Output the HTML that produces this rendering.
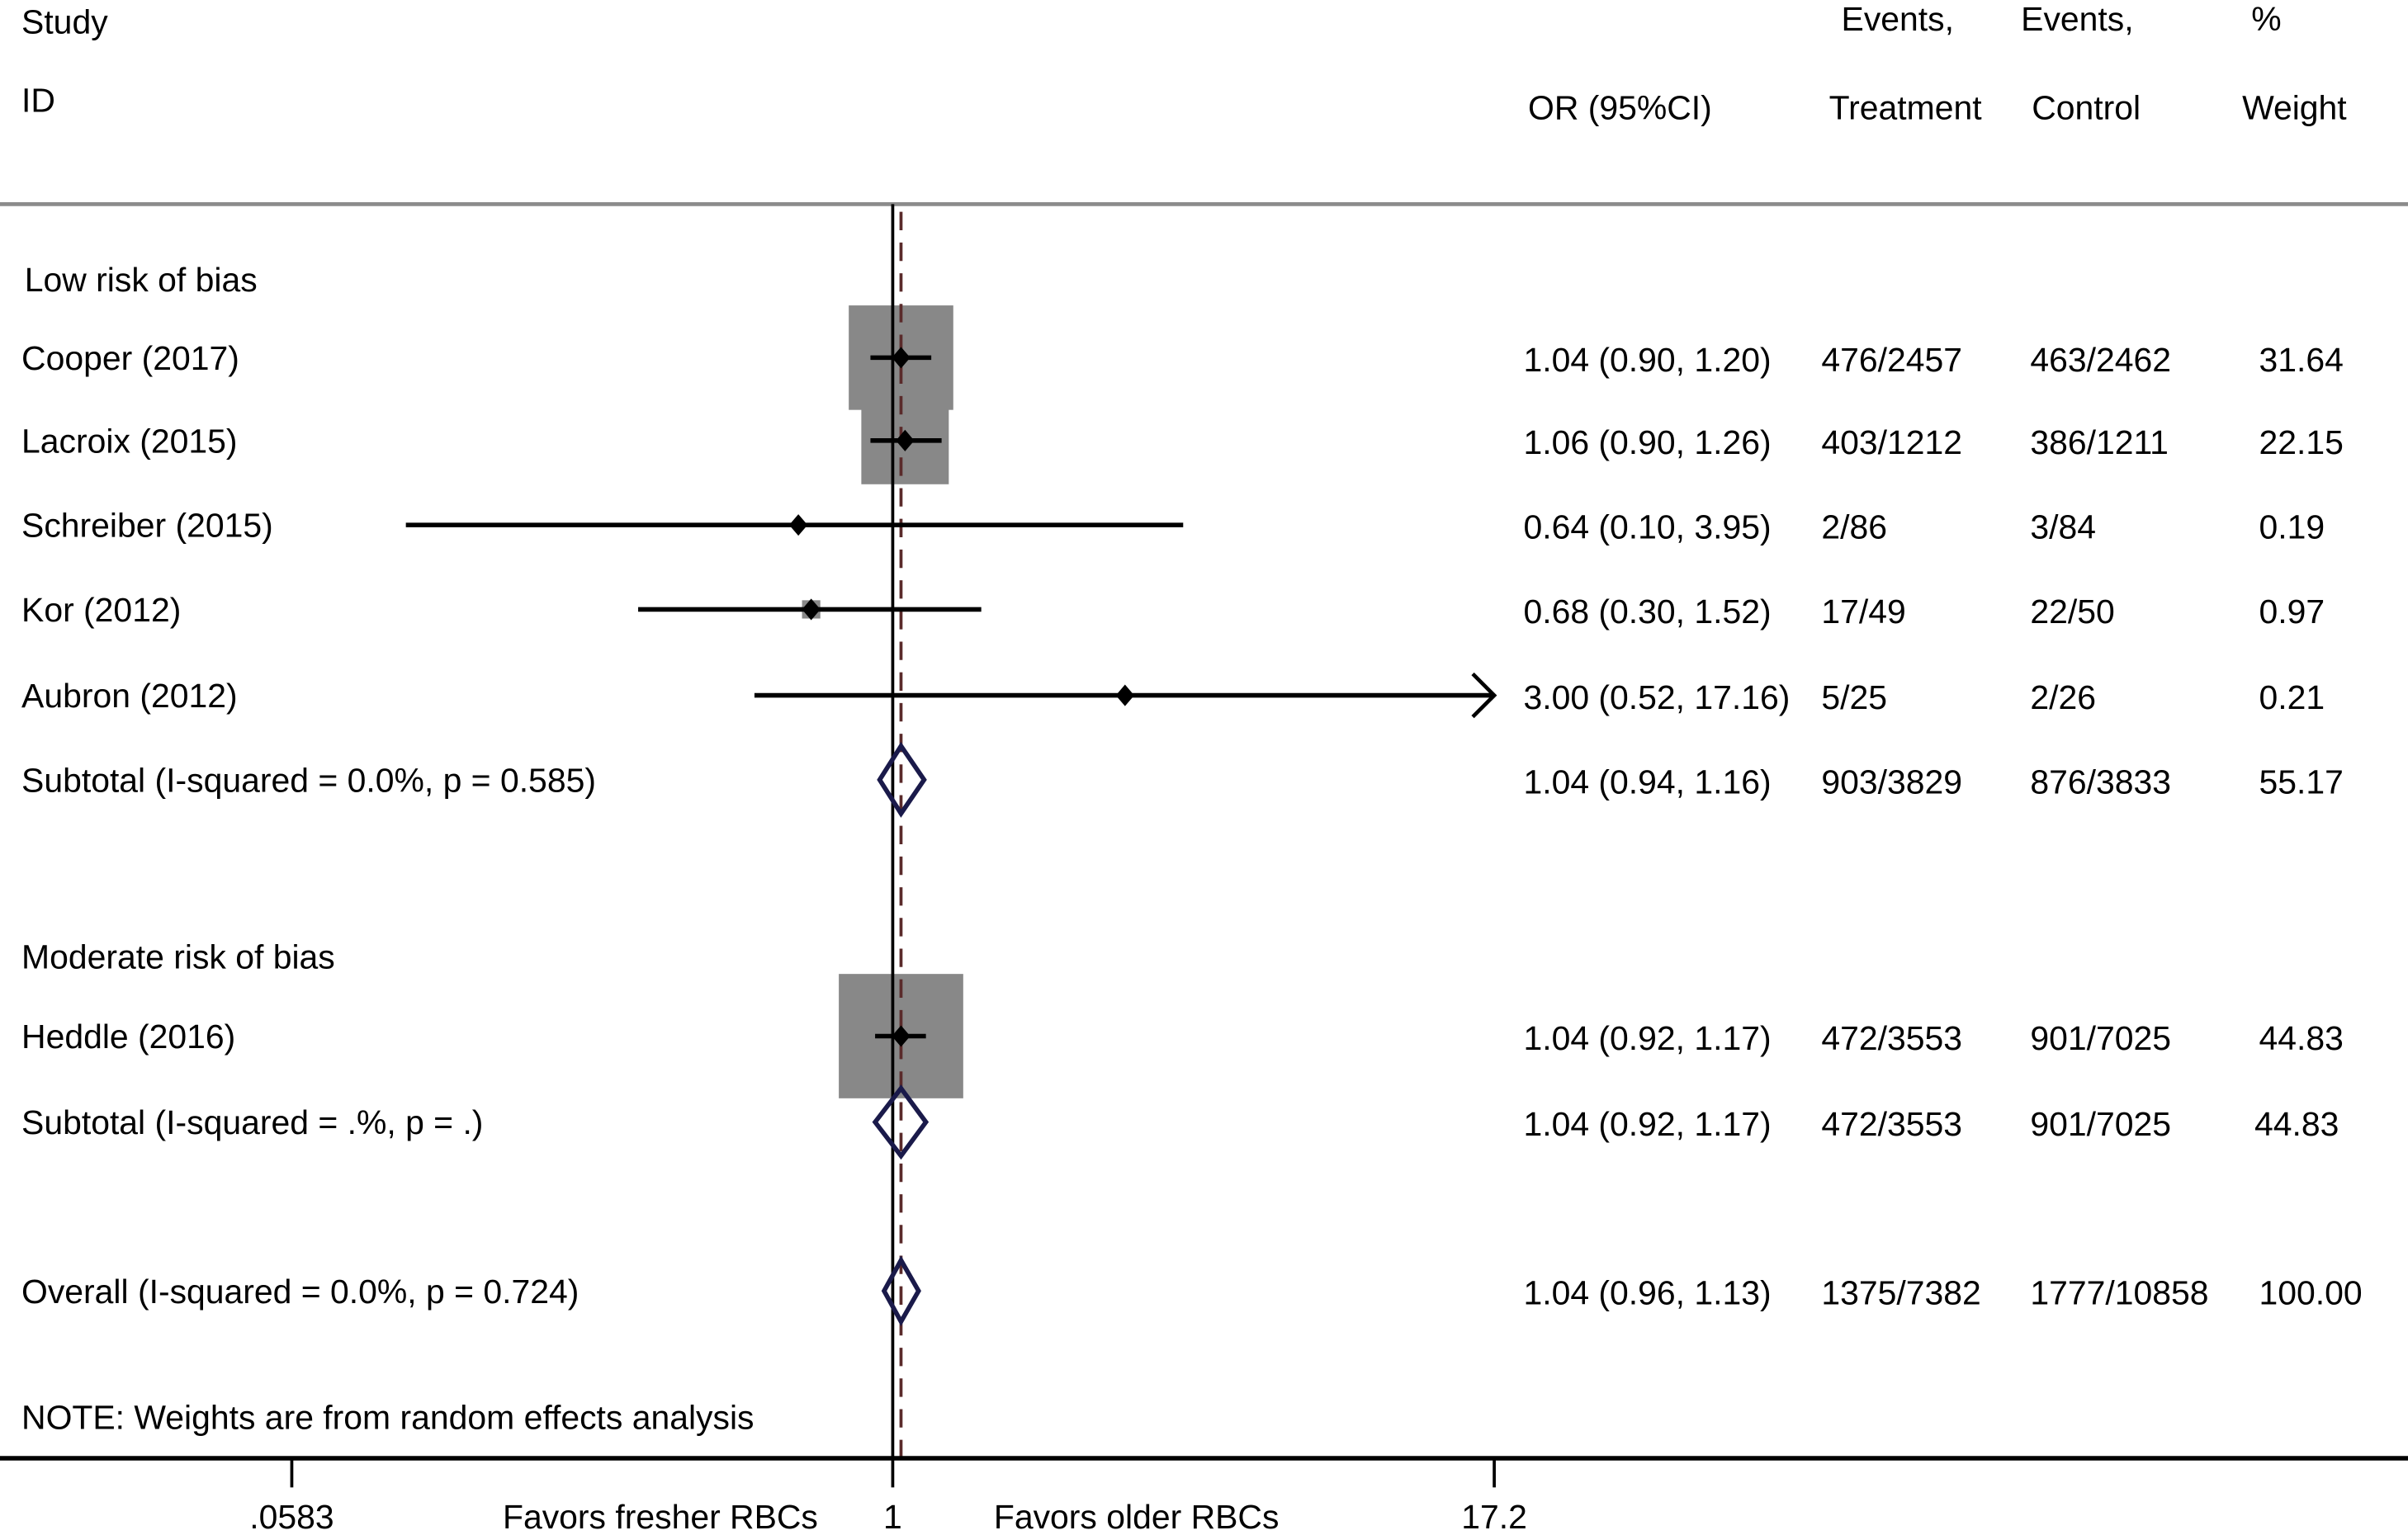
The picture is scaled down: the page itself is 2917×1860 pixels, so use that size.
<!DOCTYPE html>
<html><head><meta charset="utf-8"><style>
html,body{margin:0;padding:0;background:#fff}
svg{display:block}
text{font-family:"Liberation Sans",Arial,sans-serif;font-size:22px;fill:#000;dominant-baseline:middle}
</style></head><body>
<svg id="chart" width="2917" height="1860" viewBox="0 0 1568 1000" preserveAspectRatio="none" xmlns="http://www.w3.org/2000/svg">
<g id="hdr">
<text x="14" y="16">Study</text>
<text x="14" y="67">ID</text>
<text x="995" y="72">OR (95%CI)</text>
<text x="1199" y="14">Events,</text>
<text x="1191" y="72">Treatment</text>
<text x="1316" y="14">Events,</text>
<text x="1323" y="72">Control</text>
<text x="1466" y="14">%</text>
<text x="1460" y="72">Weight</text>
<line x1="0" y1="133" x2="1568" y2="133" stroke="#8c8c8c" stroke-width="2.5"/>
</g>
<g id="plot"></g>
</svg>
<script>
const labels = ["Cooper (2017)","Lacroix (2015)","Schreiber (2015)","Kor (2012)","Aubron (2012)","Heddle (2016)"];
const orVals = [1.04,1.06,0.64,0.68,3.00,1.04];
const loVals = [0.90,0.90,0.10,0.30,0.52,0.92];
const hiVals = [1.20,1.26,3.95,1.52,17.16,1.17];
const weights = [31.64,22.15,0.19,0.97,0.21,44.83];
const treat = ["476/2457","403/1212","2/86","17/49","5/25","472/3553"];
const ctrl = ["463/2462","386/1211","3/84","22/50","2/26","901/7025"];
const studyRows = [233,287,342,397,453,675];
const pooledLabels = ["Subtotal (I-squared = 0.0%, p = 0.585)","Subtotal (I-squared = .%, p = .)","Overall (I-squared = 0.0%, p = 0.724)"];
const pooledOr = [1.04,1.04,1.04];
const pooledLo = [0.94,0.92,0.96];
const pooledHi = [1.16,1.17,1.13];
const pooledTreat = ["903/3829","472/3553","1375/7382"];
const pooledCtrl = ["876/3833","901/7025","1777/10858"];
const pooledW = ["55.17","44.83","100.00"];
const pooledRows = [508,731,841];
const tickVals = [0.0583,1,17.2];
const tickLabels = [".0583","1","17.2"];

const NS="http://www.w3.org/2000/svg";
const g=document.getElementById('plot');
const xMin=0.0583,xMax=17.2,px0=190,px1=973;
function xs(v){return px0+(Math.log(v)-Math.log(xMin))/(Math.log(xMax)-Math.log(xMin))*(px1-px0);}
function mk(tag,attrs,name,txt){const e=document.createElementNS(NS,tag);for(const k in attrs)e.setAttribute(k,attrs[k]);


if(txt!==undefined)e.textContent=txt;g.appendChild(e);return e;}
const yTop=133,yAxis=950;
mk('text',{x:16,y:184},'group-low-risk','Low risk of bias');
mk('text',{x:14,y:625},'group-moderate-risk','Moderate risk of bias');
mk('text',{x:14,y:925},'note-text','NOTE: Weights are from random effects analysis');
for(let i=0;i<labels.length;i++){const s=12.1*Math.sqrt(weights[i]);const cx=xs(orVals[i]),y=studyRows[i];
if(s>6) mk('rect',{x:cx-s/2,y:y-s/2,width:s,height:s,fill:'#888'},'weight-box');}
mk('line',{x1:xs(1),y1:yTop,x2:xs(1),y2:yAxis,stroke:'#000','stroke-width':2},'null-line');
mk('line',{x1:xs(pooledOr[2]),y1:138,x2:xs(pooledOr[2]),y2:yAxis,stroke:'#5a2a2a','stroke-width':2,'stroke-dasharray':'12,8'},'overall-dashed-line');
for(let i=0;i<labels.length;i++){const y=studyRows[i];const lo=Math.max(loVals[i],xMin),hi=Math.min(hiVals[i],xMax);
mk('line',{x1:xs(lo),y1:y,x2:xs(hi),y2:y,stroke:'#000','stroke-width':3},'ci-line');
if(hiVals[i]>=xMax*0.95){const ax=xs(xMax);mk('polyline',{points:`${ax-14},${y-14} ${ax},${y} ${ax-14},${y+14}`,fill:'none',stroke:'#000','stroke-width':2.5},'ci-arrow');}
const cx=xs(orVals[i]);mk('polygon',{points:`${cx-6},${y} ${cx},${y-7} ${cx+6},${y} ${cx},${y+7}`,fill:'#000'},'point-estimate');
mk('text',{x:14,y:y+2},'study-label',labels[i]);
mk('text',{x:992,y:y+3},'or-value',orVals[i].toFixed(2)+' ('+loVals[i].toFixed(2)+', '+hiVals[i].toFixed(2)+')');
mk('text',{x:1186,y:y+3},'treatment-events',treat[i]);
mk('text',{x:1322,y:y+3},'control-events',ctrl[i]);
mk('text',{x:1471,y:y+3},'weight-value',weights[i].toFixed(2));}
const hh=[22,22,20];
for(let i=0;i<pooledLabels.length;i++){const y=pooledRows[i];const l=xs(pooledLo[i]),r=xs(pooledHi[i]),c=xs(pooledOr[i]);
mk('polygon',{points:`${l},${y} ${c},${y-hh[i]} ${r},${y} ${c},${y+hh[i]}`,fill:'none',stroke:'#1a1a4a','stroke-width':3},'pooled-diamond');
mk('text',{x:14,y:y+2},'pooled-label',pooledLabels[i]);
mk('text',{x:992,y:y+3},'pooled-or',pooledOr[i].toFixed(2)+' ('+pooledLo[i].toFixed(2)+', '+pooledHi[i].toFixed(2)+')');
mk('text',{x:1186,y:y+3},'pooled-treatment',pooledTreat[i]);
mk('text',{x:1322,y:y+3},'pooled-control',pooledCtrl[i]);
mk('text',{x:i==1?1468:1471,y:y+3},'pooled-weight',pooledW[i]);}
mk('line',{x1:0,y1:yAxis,x2:1568,y2:yAxis,stroke:'#000','stroke-width':3},'x-axis');
for(let i=0;i<tickVals.length;i++){const x=xs(tickVals[i]);
mk('line',{x1:x,y1:yAxis,x2:x,y2:969,stroke:'#000','stroke-width':2},'x-tick');
mk('text',{x:x,y:990,'text-anchor':'middle'},'x-tick-label',tickLabels[i]);}
mk('text',{x:430,y:990,'text-anchor':'middle'},'favors-fresher-label','Favors fresher RBCs');
mk('text',{x:740,y:990,'text-anchor':'middle'},'favors-older-label','Favors older RBCs');
</script>
</body></html>
